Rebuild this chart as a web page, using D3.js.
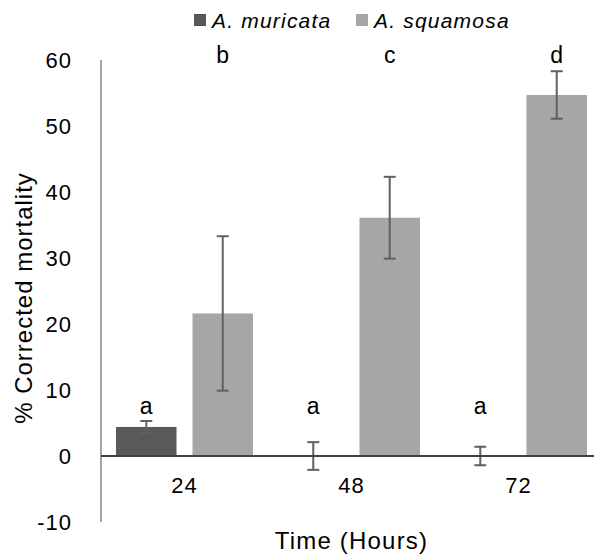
<!DOCTYPE html>
<html>
<head>
<meta charset="utf-8">
<script src="https://cdn.jsdelivr.net/npm/d3@7"></script>
<style>
  body { margin: 0; background: #fff; }
  svg { font-family: "Liberation Sans", Arial, sans-serif; }
</style>
</head>
<body>
<svg class="chart"></svg>
<script>
// data
const categories = ["24", "48", "72"];
const seriesNames = ["A. muricata", "A. squamosa"];
const muricata = [4.4, 0, 0];
const muricataErr = [0.9, 2.1, 1.4];
const squamosa = [21.6, 36.1, 54.7];
const squamosaErr = [11.7, 6.2, 3.6];
const muricataLetters = ["a", "a", "a"];
const squamosaLetters = ["b", "c", "d"];
const letterLevel = [6.4, 59.5];
const yTicks = [-10, 0, 10, 20, 30, 40, 50, 60];
const colors = ["#595959", "#a6a6a6"];

const width = 594, height = 558;
const svg = d3.select(".chart").attr("width", width).attr("height", height);

const plotLeft = 101, plotRight = 602, plotTop = 60, plotBottom = 522;

const y = d3.scaleLinear().domain([-10, 60]).range([plotBottom, plotTop]);
const x0 = d3.scaleBand().domain(categories).range([plotLeft, plotRight])
  .paddingInner(0.18).paddingOuter(0.09);
const x1 = d3.scaleBand().domain([0, 1]).range([0, x0.bandwidth()]).paddingInner(0.209);

const series = [
  { vals: muricata, err: muricataErr, letters: muricataLetters },
  { vals: squamosa, err: squamosaErr, letters: squamosaLetters }
];

// bars
series.forEach(function(s, si) {
  categories.forEach(function(c, i) {
    let v = s.vals[i];
    if (v === 0) return;
    svg.append("rect")
      .attr("x", x0(c) + x1(si))
      .attr("width", x1.bandwidth())
      .attr("y", y(Math.max(v, 0)))
      .attr("height", Math.abs(y(v) - y(0)))
      .attr("fill", colors[si]);
  });
});

// y axis line (no ticks) and labels
svg.append("line")
  .attr("x1", plotLeft).attr("x2", plotLeft)
  .attr("y1", y(60)).attr("y2", y(-10))
  .attr("stroke", "#868686").attr("stroke-width", 1.5);

svg.selectAll(".ytick").data(yTicks).enter().append("text")
  .attr("x", 72).attr("y", d => y(d)).attr("dy", "0.36em")
  .attr("text-anchor", "end").attr("font-size", 22).attr("letter-spacing", 1)
  .text(d => d);

// error bars
series.forEach(function(s, si) {
  categories.forEach(function(c, i) {
    let cx = x0(c) + x1(si) + x1.bandwidth() / 2;
    let hi = y(s.vals[i] + s.err[i]), lo = y(s.vals[i] - s.err[i]);
    let g = svg.append("g").attr("stroke", "#606060").attr("stroke-width", 2);
    g.append("line").attr("x1", cx).attr("x2", cx).attr("y1", hi).attr("y2", lo);
    g.append("line").attr("x1", cx - 6).attr("x2", cx + 6).attr("y1", hi).attr("y2", hi);
    g.append("line").attr("x1", cx - 6).attr("x2", cx + 6).attr("y1", lo).attr("y2", lo);
  });
});

// zero line
svg.append("line")
  .attr("x1", plotLeft).attr("x2", plotRight)
  .attr("y1", y(0)).attr("y2", y(0))
  .attr("stroke", "#404040").attr("stroke-width", 2);

// category labels
svg.selectAll(".xtick").data(categories).enter().append("text")
  .attr("x", d => x0(d) + x0.bandwidth() / 2).attr("y", 493)
  .attr("text-anchor", "middle").attr("font-size", 22).attr("letter-spacing", 1)
  .text(d => d);

// significance letters
series.forEach(function(s, si) {
  categories.forEach(function(c, i) {
    svg.append("text")
      .attr("x", x0(c) + x1(si) + x1.bandwidth() / 2)
      .attr("y", y(letterLevel[si]))
      .attr("text-anchor", "middle").attr("font-size", 23)
      .text(s.letters[i]);
  });
});

// axis titles
svg.append("text")
  .attr("x", (plotLeft + plotRight) / 2).attr("y", 549)
  .attr("text-anchor", "middle").attr("font-size", 24).attr("letter-spacing", 1.2)
  .text("Time (Hours)");

svg.append("text")
  .attr("transform", "translate(32," + ((plotTop + plotBottom) / 2 + 7) + ") rotate(-90)")
  .attr("text-anchor", "middle").attr("font-size", 24).attr("letter-spacing", 1)
  .text("% Corrected mortality");

// legend
let legendX = [194, 356];
seriesNames.forEach(function(n, i) {
  svg.append("rect").attr("x", legendX[i]).attr("y", 14)
    .attr("width", 12).attr("height", 12).attr("fill", colors[i]);
  svg.append("text").attr("x", legendX[i] + 18).attr("y", 28)
    .attr("font-size", 21).attr("font-style", "italic").attr("letter-spacing", 1.2)
    .text(n);
});
</script>
</body>
</html>
